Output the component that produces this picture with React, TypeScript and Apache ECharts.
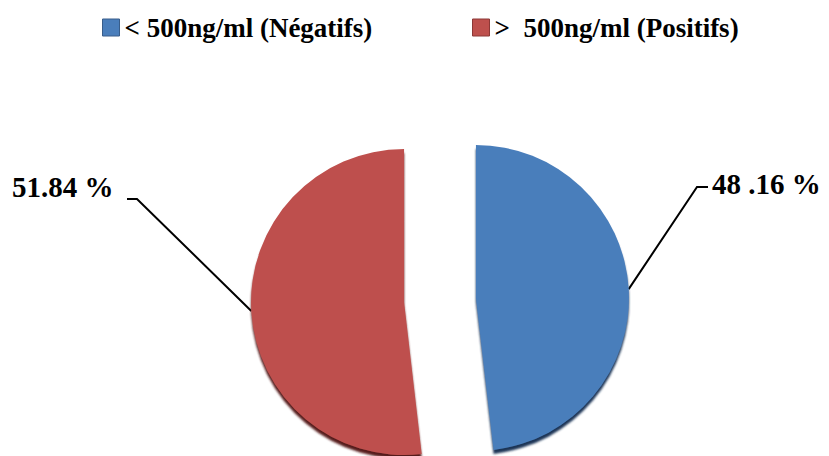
import React, { useEffect, useRef } from "react";
import * as echarts from "echarts";

// Dosage categories and their share of the cohort (%)
const categories = ["< 500ng/ml (Négatifs)", ">  500ng/ml (Positifs)"];
const shares = [48.16, 51.84];
const labelTexts = ["48 .16 %", "51.84 %"];

const sliceColors = ["#4A7EBB", "#BE504D"];
const rimColors = ["#1F3656", "#561E1D"];
const iconBorders = ["#385D8A", "#8C3836"];

// Where each value label sits, and the elbow / end of its leader line
const labelPlacement = [
  { x: 712, y: 184, elbow: [697, 187], end: [708, 187] },
  { x: 12, y: 187, elbow: [137, 199], end: [127, 199] },
];

const FONT = "'Liberation Serif', 'Times New Roman', serif";
const CENTER = [440, 300];
const RADIUS = 153;
const EXPLODE = 36;

// Each slice is pulled out from the centre along its own mid-angle.
function explodedCenter(index: number): [number, number] {
  const total = shares.reduce((a, b) => a + b, 0);
  const before = shares.slice(0, index).reduce((a, b) => a + b, 0);
  const midDeg = 90 - (360 * (before + shares[index] / 2)) / total;
  const rad = (midDeg * Math.PI) / 180;
  return [CENTER[0] + Math.cos(rad) * EXPLODE, CENTER[1] - Math.sin(rad) * EXPLODE];
}

function sliceSeries(index: number) {
  return {
    type: "pie",
    name: categories[index],
    center: explodedCenter(index),
    radius: RADIUS,
    startAngle: 90,
    clockwise: true,
    avoidLabelOverlap: false,
    emphasis: { disabled: true },
    label: {
      show: true,
      position: "outside",
      formatter: (p: any) => labelTexts[p.dataIndex],
      fontFamily: FONT,
      fontWeight: "bold",
      fontSize: 29,
      color: "#000",
    },
    labelLine: { show: true, length: 20, length2: 10, lineStyle: { color: "#000", width: 2 } },
    labelLayout: (params: any) => {
      const place = labelPlacement[params.dataIndex];
      const pts = params.labelLinePoints;
      if (!pts) return {};
      return {
        x: place.x,
        y: place.y,
        align: "left",
        verticalAlign: "middle",
        labelLinePoints: [pts[0], place.elbow, place.end],
      };
    },
    // the whole pie is laid out in every series, only this slice is painted
    data: categories.map((name, i) =>
      i === index
        ? {
            name,
            value: shares[i],
            itemStyle: {
              color: sliceColors[i],
              shadowColor: rimColors[i],
              shadowBlur: 2,
              shadowOffsetY: 4,
            },
          }
        : {
            name,
            value: shares[i],
            itemStyle: { color: "rgba(0,0,0,0)" },
            label: { show: false },
            labelLine: { show: false },
          }
    ),
  };
}

export default function App() {
  const ref = useRef<HTMLDivElement>(null);

  useEffect(() => {
    if (!ref.current) return;
    const chart = echarts.init(ref.current, null, { renderer: "svg" });

    const legendFor = (i: number, left: number) => ({
      left,
      top: 14,
      padding: 0,
      icon: "rect",
      itemWidth: 17,
      itemHeight: 17,
      itemGap: 0,
      selectedMode: false,
      data: [
        {
          name: categories[i],
          itemStyle: { color: sliceColors[i], borderColor: iconBorders[i], borderWidth: 1 },
        },
      ],
      textStyle: { fontFamily: FONT, fontWeight: "bold" as const, fontSize: 27, color: "#000" },
    });

    chart.setOption({
      animation: false,
      backgroundColor: "#ffffff",
      legend: [legendFor(0, 102), legendFor(1, 472)],
      series: [sliceSeries(0), sliceSeries(1)],
    });

    return () => chart.dispose();
  }, []);

  return (
    <div
      ref={ref}
      style={{ position: "absolute", left: 0, top: 0, width: 829, height: 456, background: "#fff" }}
    />
  );
}
